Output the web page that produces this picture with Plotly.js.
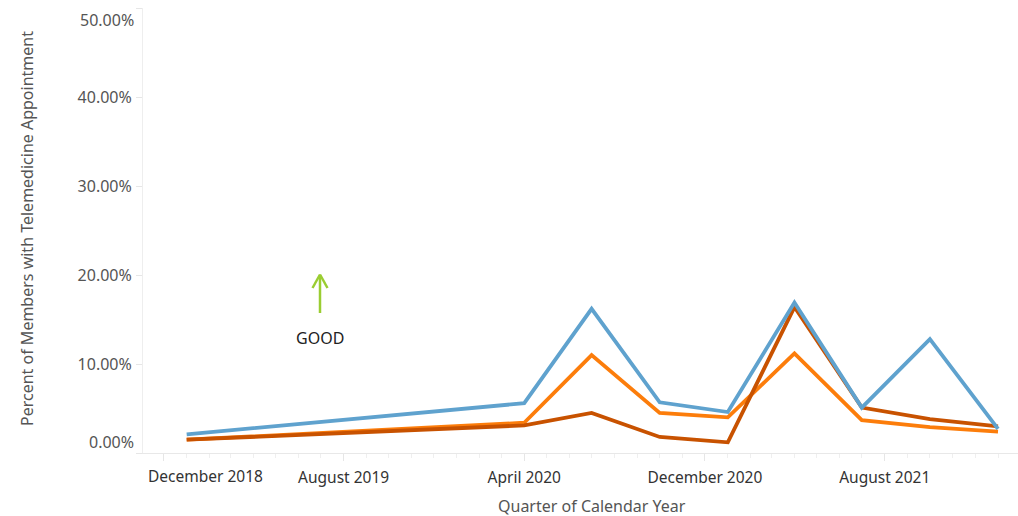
<!DOCTYPE html>
<html>
<head>
<meta charset="utf-8">
<script src="https://cdn.plot.ly/plotly-3.0.1.min.js"></script>
<style>html,body{margin:0;padding:0;background:#fff;}#chart{width:1018px;height:516px;}</style>
</head>
<body>
<div id="chart"></div>
<script>
// Quarter start dates (Tableau continuous quarter axis)
const quarters = ['2019-01-01','2020-04-01','2020-07-01','2020-10-01','2021-01-01','2021-04-01','2021-07-01','2021-10-01','2022-01-01'];
// Percent of members with telemedicine appointment (fractions)
const seriesBlue = [0.021,0.056,0.162,0.057,0.046,0.169,0.051,0.128,0.027];
const seriesOrange = [0.015,0.034,0.110,0.045,0.040,0.112,0.037,0.029,0.024];
const seriesDarkOrange = [0.015,0.031,0.045,0.018,0.012,0.164,0.051,0.038,0.030];

const xTickVals = ['2018-12-01','2019-08-01','2020-04-01','2020-12-01','2021-08-01'];
const xTickText = ['December 2018','August 2019','April 2020','December 2020','August 2021'];
const yTickVals = [0,0.1,0.2,0.3,0.4,0.5];
const yTickText = ['0.00%','10.00%','20.00%','30.00%','40.00%','50.00%'];

const FONT = 'Noto Sans, Open Sans, sans-serif';
const L = 143, T = 8, W = 875, H = 445;
const px = x => (x - L) / W;
const py = y => (T + H - y) / H;

const traces = [
  {x: quarters, y: seriesOrange, name: 'Orange', mode: 'lines', line: {color: '#fc7d0b', width: 3.8}},
  {x: quarters, y: seriesDarkOrange, name: 'Dark Orange', mode: 'lines', line: {color: '#c85200', width: 3.8}},
  {x: quarters, y: seriesBlue, name: 'Blue', mode: 'lines', line: {color: '#5fa2ce', width: 3.8}}
];

const arrowColor = '#9acd32';
const shapes = [
  {type: 'line', xref: 'paper', yref: 'paper', x0: px(320), x1: px(320), y0: py(313), y1: py(275), line: {color: arrowColor, width: 2.5}},
  {type: 'line', xref: 'paper', yref: 'paper', x0: px(320), x1: px(312.5), y0: py(274.5), y1: py(288), line: {color: arrowColor, width: 2.5}},
  {type: 'line', xref: 'paper', yref: 'paper', x0: px(320), x1: px(327.5), y0: py(274.5), y1: py(288), line: {color: arrowColor, width: 2.5}}
];

const annotations = [
  {xref: 'paper', yref: 'paper', x: px(320), y: py(338), text: 'GOOD', showarrow: false,
   font: {family: FONT, size: 16, color: '#222'}, xanchor: 'center', yanchor: 'middle'},
  {xref: 'paper', yref: 'paper', x: px(27), y: py(229), text: 'Percent of Members with Telemedicine Appointment',
   textangle: -90, showarrow: false, font: {family: FONT, size: 16, color: '#555'}, xanchor: 'center', yanchor: 'middle'},
  {xref: 'paper', yref: 'paper', x: px(592), y: py(506), text: 'Quarter of Calendar Year', showarrow: false,
   font: {family: FONT, size: 16, color: '#555'}, xanchor: 'center', yanchor: 'middle'},
  // End labels shifted inward like the reference
  {xref: 'paper', yref: 'paper', x: px(146), y: py(476), text: xTickText[0], showarrow: false,
   font: {family: FONT, size: 15.5, color: '#333'}, xanchor: 'left', yanchor: 'middle'},
  {xref: 'paper', yref: 'paper', x: px(136), y: py(442), text: yTickText[0], showarrow: false,
   font: {family: FONT, size: 16, color: '#555'}, xanchor: 'right', yanchor: 'middle'},
  {xref: 'paper', yref: 'paper', x: px(136), y: py(20), text: yTickText[5], showarrow: false,
   font: {family: FONT, size: 16, color: '#555'}, xanchor: 'right', yanchor: 'middle'}
];

const xText = xTickText.map((t, i) => i === 0 ? ' ' : t);
const yText = yTickText.map((t, i) => (i === 0 || i === yTickText.length - 1) ? ' ' : t);

const layout = {
  width: 1018, height: 516,
  margin: {l: L, r: 1018 - L - W, t: T, b: 516 - T - H, pad: 0},
  paper_bgcolor: '#fff', plot_bgcolor: '#fff',
  showlegend: false,
  font: {family: FONT, size: 16, color: '#555'},
  xaxis: {
    type: 'date', range: ['2018-11-03', '2022-01-28'],
    tickmode: 'array', tickvals: xTickVals, ticktext: xText,
    ticks: 'outside', ticklen: 7, tickcolor: '#e6e6e6', tickwidth: 1,
    minor: {tickmode: 'linear', tick0: '2018-12-01', dtick: 'M1', ticks: 'outside', ticklen: 4, tickcolor: '#efefef', showgrid: false},
    showgrid: false, zeroline: false, showline: true, linecolor: '#e8e8e8', linewidth: 1,
    tickfont: {family: FONT, size: 15.5, color: '#333'}, ticklabelstandoff: 3,
    fixedrange: true
  },
  yaxis: {
    range: [0, 0.5], tickmode: 'array', tickvals: yTickVals, ticktext: yText,
    ticks: 'outside', ticklen: 6, tickcolor: '#e6e6e6',
    showgrid: false, zeroline: false, showline: true, linecolor: '#eeeeee', linewidth: 1,
    tickfont: {family: FONT, size: 16, color: '#555'}, ticklabelstandoff: 1,
    fixedrange: true
  },
  shapes: shapes,
  annotations: annotations
};

Plotly.newPlot('chart', traces, layout, {displayModeBar: false, staticPlot: true});
</script>
</body>
</html>
